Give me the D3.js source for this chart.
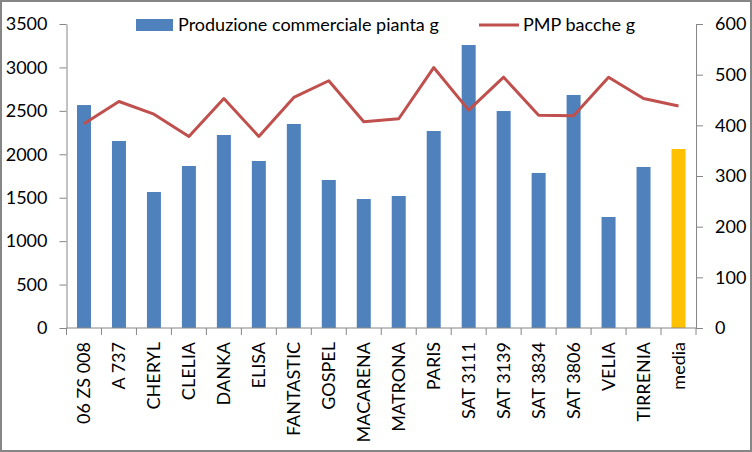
<!DOCTYPE html>
<html>
<head>
<meta charset="utf-8">
<script src="https://cdn.jsdelivr.net/npm/d3@7"></script>
<style>
  body { margin: 0; background: #fff; }
  svg { display: block; font-family: Lato, "Open Sans", sans-serif; }
</style>
</head>
<body>
<script>
// varieties
const categories = ['06 ZS 008','A 737','CHERYL','CLELIA','DANKA','ELISA','FANTASTIC','GOSPEL',
  'MACARENA','MATRONA','PARIS','SAT 3111','SAT 3139','SAT 3834','SAT 3806','VELIA','TIRRENIA','media']
const produzione = [2567,2153,1566,1865,2222,1923,2349,1704,1485,1520,2268,3258,2498,1785,2683,1278,1854,2061]
const pmp = [403,447,422,378,453,378,455,488,407,413,514,430,495,420,419,495,453,438]
const leftTicks = [0,500,1000,1500,2000,2500,3000,3500]
const rightTicks = [0,100,200,300,400,500,600]

let w = 752, h = 452
let m = {left: 66.5, right: 56, top: 24, bottom: 124}
let fs = 18

let svg = d3.select('body').append('svg').attr('width', w).attr('height', h)

svg.append('rect').attr('x', 1).attr('y', 1).attr('width', w - 2).attr('height', h - 2)
  .attr('fill', '#fff').attr('stroke', '#868686').attr('stroke-width', 2)

let x = d3.scaleBand().domain(categories).range([m.left, w - m.right]).paddingInner(0.6).paddingOuter(0.3)
let yL = d3.scaleLinear().domain([0, 3500]).range([h - m.bottom, m.top])
let yR = d3.scaleLinear().domain([0, 600]).range([h - m.bottom, m.top])

// bars
svg.selectAll('rect.bar')
  .data(categories)
  .enter()
  .append('rect')
  .attr('class', 'bar')
  .attr('x', d => x(d))
  .attr('width', x.bandwidth())
  .attr('y', (d, i) => yL(produzione[i]))
  .attr('height', (d, i) => yL(0) - yL(produzione[i]))
  .attr('fill', d => d == 'media' ? '#FFC000' : '#4F81BD')

// axes
let axisStyle = g => {
  g.select('.domain').attr('stroke', '#868686')
  g.selectAll('.tick line').attr('stroke', '#868686')
  g.selectAll('.tick text').attr('fill', '#000').attr('font-size', fs).attr('font-family', 'Lato')
}

svg.append('g').attr('transform', `translate(${m.left},0)`)
  .call(d3.axisLeft(yL).tickValues(leftTicks).tickFormat(d3.format('d')).tickSize(7).tickSizeOuter(0).tickPadding(12))
  .call(axisStyle)

svg.append('g').attr('transform', `translate(${w - m.right},0)`)
  .call(d3.axisRight(yR).tickValues(rightTicks).tickFormat(d3.format('d')).tickSize(7).tickSizeOuter(0).tickPadding(12))
  .call(axisStyle)

// category axis: ticks between bands
let xg = svg.append('g').attr('transform', `translate(0,${h - m.bottom})`)
xg.append('line').attr('x1', m.left).attr('x2', w - m.right).attr('stroke', '#868686')
xg.selectAll('line.tk')
  .data(d3.range(categories.length + 1))
  .enter()
  .append('line')
  .attr('x1', i => m.left + i * x.step())
  .attr('x2', i => m.left + i * x.step())
  .attr('y1', 0).attr('y2', 7)
  .attr('stroke', '#868686')
xg.selectAll('text')
  .data(categories)
  .enter()
  .append('text')
  .text(d => d)
  .attr('transform', d => `translate(${x(d) + x.bandwidth() / 2 + 6},14) rotate(-90)`)
  .attr('text-anchor', 'end')
  .attr('font-size', fs)

// line
let line = d3.line()
  .x((d, i) => x(categories[i]) + x.bandwidth() / 2)
  .y(d => yR(d))
svg.append('path').datum(pmp)
  .attr('d', line)
  .attr('fill', 'none')
  .attr('stroke', '#C0504D')
  .attr('stroke-width', 3)
  .attr('stroke-linejoin', 'round')

// legend
let lg = svg.append('g')
lg.append('rect').attr('x', 136).attr('y', 19).attr('width', 37).attr('height', 12).attr('fill', '#4F81BD')
lg.append('text').attr('x', 178).attr('y', 31).attr('font-size', fs).text('Produzione commerciale pianta g')
lg.append('line').attr('x1', 479).attr('x2', 519).attr('y1', 25).attr('y2', 25)
  .attr('stroke', '#C0504D').attr('stroke-width', 3)
lg.append('text').attr('x', 523).attr('y', 31).attr('font-size', fs).text('PMP bacche g')
</script>
</body>
</html>
